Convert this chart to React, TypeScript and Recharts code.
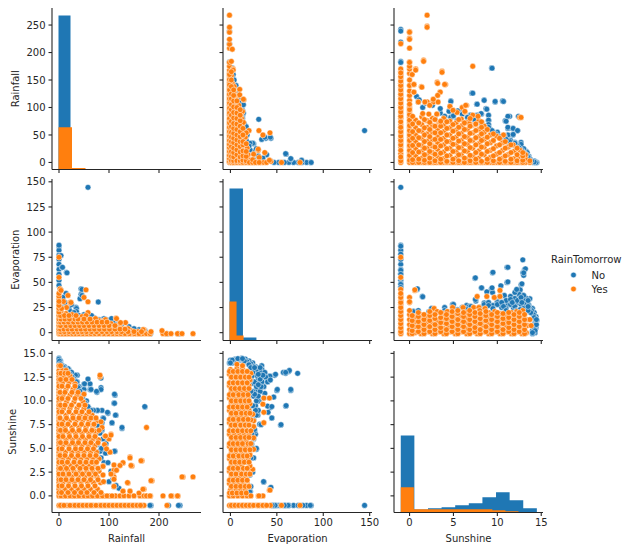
import React from 'react';
import { Area, ComposedChart, Scatter, ScatterChart, XAxis, YAxis } from 'recharts';

const BLUE = '#1f77b4';
const ORANGE = '#ff7f0e';
const INK = '#262626';
const FONT = '"DejaVu Sans", sans-serif';

// rainfall, evaporation
const RE_NO = [
  [58,144.5],[0,86],[0,82],[0,77],[0,73],[0,68],[0,63],[0,58],[0,52],[0,47],[3,43],[6,65],[15,60],[14,39],[44,43.6],[44,38],[42,33.7],
  [78.5,30.5],[34,25],[34,21],[60,15],[55,14],[46,37],[46,43],[16,59.5],[7,65],[4,76.7],[0,87],[35,24],[85,13],[113,10],[110,12],[20,24],
  [5,25],[108,10],[35,21],[23,21],[12,30],[40,17],[70,15],[95,13],[105,14],[125,8],[140,6],[160,3],[239,-1],[216,-1],[183,-1],[30,20],
  [80,13],[90,14],[65,17],[50,18],[25,28],[8,35],[150,4],[172,2],
];
const RE_YES = [
  [0,-1],[5,-1],[10,-1],[16,-1],[24,-1],[30,-1],[36,-1],[44,-1],[52,-1],[60,-1],[68,-1],[76,-1],[86,-1],[95,-1],[104,-1],[112,-1],[120,-1],
  [128,-1],[136,-1],[146,-1],[156,-1],[163,-1],[168,-1],[175,-1],[182,-1],[208,-1],[215,-1],[224,-1],[237,-1],[246,-1],[268,-1],
  [0,2],[8,2],[16,2],[24,2],[34,2],[42,1],[50,2],[60,1],[70,2],[80,1],[92,2],[100,1],[110,2],[122,2],[132,1],[144,2],[158,1],[170,3],[184,1],[206,2],
  [0,5],[6,5],[14,6],[22,5],[30,5],[40,6],[48,5],[56,6],[66,5],[76,6],[86,5],[96,6],[106,4],[118,5],[126,4],[138,4],[168,3],
  [0,9],[10,8],[18,9],[28,8],[36,9],[46,8],[54,9],[64,8],[74,9],[84,8],[94,8],[104,9],[122,9],[133,10],[123,10],
  [0,12],[6,12],[14,12],[24,12],[32,13],[42,12],[52,13],[60,12],[70,13],[80,12],[90,12],[93,13],
  [0,15],[9,16],[18,15],[28,16],[44,15],[46,16],[73,14],[114,14.5],[115,14],
  [0,19],[0,22],[5,20],[14,19],[26,18],[58,20],[54,17],[0,25],[15,25],[0,29],[0,33],[0,36],[0,39],[2,43.6],[0,55],[0,75],
  [18,37],[54,42.6],[50,35],[58,30.7],[22,30],[9,31],[4,42],[24,30],
];
// evaporation level, then the rainfall readings on that level
const RE_YES_ROWS: [number, number[]][] = [
  [-1, [2,7,13,20,27,33,40,48,56,64,72,80,90,99,108,116,124,132,141,151,160]],
  [1, [0,3,11,20,29,38,46,55,65,75,86,96,105,116,125,138,150,165]],
  [3.5, [0,3,10,18,26,36,44,53,62,71,81,91,101,112,122,132]],
  [7, [0,3,14,23,32,41,50,60,70,80,90,100,112]],
  [10.5, [0,3,10,19,29,38,47,56,66,76,86,96]],
  [13.5, [0,4,12,21,32,38,50,62]],
  [17, [0,3,11,20,34]],
  [20.5, [0]],
  [24, [0,5]],
  [27, [0]],
  [31, [0]],
];

// rainfall, sunshine
const RS_NO = [
  [0,14.5],[0,14.3],[15,13.1],[20,13.3],[32,12.55],[58,12.3],[62,11.75],[50,11.75],[62,11.2],[50,11.2],[84,11.4],[76,10.9],[112,10.6],[110,9.75],
  [172,9.35],[114,8.5],[98,8.7],[86,9],[76,9],[68,9],[60,9.2],[88,8.2],[106,7.65],[126,7.1],[86,6.9],[76,5.4],[82,4.7],[112,4.7],[94,4.5],[82,4],[84,4],
  [80,2.9],[120,0.8],[184,-1],[242,-1],[239,-1],[219,-1],[182,-1],[171.5,9.4],[126,7.2],[113,8.5],[111,9.75],[111,10.7],[106,7.7],[111,4.7],[97,8.8],[89,8.15],
  [84,11.2],[84,12.4],[93,4.5],[84,4],[82,4.7],[86,7],[86,7.7],[75,11],[64,11.2],[62,11.8],[58,12.3],[51,11.8],[49,10.8],[77,9],[69,9],[36.5,12.7],[33,12.7],
  [36.5,12],[29,11.3],[18,13.4],[15,13.2],[0,14.4],[3,14.2],[11,13.6],[25,13],[2,14],[5,13.8],[8,13.5],[30,12.3],[40,11.5],[45,10.8],[55,10],[64,9],[75,7.5],
  [92,6],[85,5],[90,3.5],[100,1.5],[110,1],[0,14.1],[1,14.2],[3,13.9],[6,13.7],[10,13.5],[14,13.3],[18,13],[22,12.8],[26,12.5],[30,12.1],[35,12],[38,11.4],[42,11],
  [47,10.4],[52,9.8],[58,9.4],[66,8.5],[72,8.2],[78,7.4],[82,6.6],[88,6],[94,5.5],[98,3.5],[104,2.6],[108,1.8],[114,1.1],
];
const RS_YES = [
  [0,-1],[6,-1],[16,-1],[28,-1],[36,-1],[44,-1],[52,-1],[60,-1],[68,-1],[80,-1],[88,-1],[96,-1],[104,-1],[112,-1],[120,-1],[128,-1],[136,-1],[144,-1],[152,-1],[160,-1],[166,-1],[170,-1],[216,-1],
  [0,0],[9,0],[18,0],[27,0],[36,0],[45,0],[54,0],[63,0],[72,0],[82,0],[92,0],[100,0],[113,0],[122,0],[130,0],[140,0],[150,0],[162,0],[170,0],[183,0],[208,0],[226,0],[238,0],[175,0],
  [0,0.7],[12,0.7],[25,0.7],[38,0.7],[50,0.7],[63,0.7],[77,0.7],[170,0.7],[128,0.5],[142,0.5],[160,0.3],
  [0,1.4],[8,1.4],[20,1.4],[31,1.4],[44,1.4],[57,1.4],[69,1.4],[83,1.4],[138,1.35],[186,1.6],
  [0,2],[14,2],[26,2],[39,2],[52,2],[64,2],[76,2],[108,2.3],[248,2],[268,2],
  [0,2.6],[6,2.6],[18,2.6],[30,2.6],[42,2.6],[55,2.6],[67,2.6],[80,2.6],[110,2.7],
  [0,3.2],[11,3.2],[24,3.2],[36,3.2],[48,3.2],[60,3.2],[72,3.35],[88,3.15],[110,3.25],[146,3.15],[128,3.45],
  [0,3.9],[7,3.9],[19,3.9],[32,3.9],[44,3.9],[56,3.9],[68,3.9],[80,3.9],[142,4.1],[166,3.7],
  [0,4.6],[13,4.6],[26,4.6],[38,4.6],[50,4.6],[63,4.6],[75,4.6],[102,4.6],
  [0,5.3],[8,5.3],[20,5.3],[33,5.3],[46,5.3],[59,5.3],[72,5.3],
  [0,5.9],[14,5.9],[27,5.9],[40,5.9],[53,5.9],[66,5.9],[79,5.9],[100,6],
  [0,6.6],[7,6.6],[20,6.6],[33,6.6],[46,6.6],[60,6.6],[73,6.6],[92,6.3],[104,6.5],
  [0,7.2],[12,7.2],[26,7.2],[40,7.2],[54,7.2],[68,7.2],[86,7.2],[175,7.2],
  [0,7.9],[8,7.9],[21,7.9],[34,7.9],[47,7.9],[60,7.9],[76,7.9],
  [0,8.5],[14,8.5],[28,8.5],[42,8.5],[55,8.5],[66,8.5],
  [0,9.2],[9,9.2],[22,9.2],[36,9.2],[50,9.2],
  [0,9.9],[15,9.9],[30,9.9],[48,9.9],
  [0,10.6],[8,10.6],[22,10.6],[36,10.6],[50,10.7],
  [0,11.2],[14,11.2],[28,11.2],
  [0,11.9],[7,11.9],[20,11.9],[32,11.8],
  [0,12.6],[10,12.6],[22,12.6],[82,12.55],
  [0,13.2],[7,13.2],[14,13.2],[0,13.7],[3,13.7],
  [246,2],[237,0],[224,0],[184,1.6],[182,0],[168,0.7],[164,3.7],[144,3.2],[142,4],[137,1.4],[142,0.5],[128,0.5],[128,3.5],[122,3.2],[115,2.7],[110,2],
  [110,1.75],[110,1],[102,4.6],[104,6.4],[93,6.3],[91,5.4],[88,3.1],[82,12.7],[84,7.8],[69,7.5],[71,6.8],[67.5,6],[73,3.5],[88,2.2],[89,1.5],
];
// sunshine level, then the rainfall readings on that level
const RS_YES_ROWS: [number, number[]][] = [
  [-1, [3,10,22,32,40,48,56,64,74,84,92,100,108,116,124,132,140,148,156,163]],
  [0, [4,13,22,31,40,50,58,67,77,87,96,106]],
  [0.35, [0,5,18,31,44,56,70,84]],
  [1.05, [0,6,19,32,45,58,72]],
  [1.7, [0,4,14,26,38,50,63,78]],
  [2.3, [0,8,20,34,47,60,73,104]],
  [2.9, [0,3,15,28,42,54,66,78]],
  [3.55, [0,6,17,30,42,54,66,75]],
  [4.25, [0,2,12,25,38,50,62,74]],
  [4.95, [0,6,20,33,44,57,69,95]],
  [5.6, [0,3,14,27,39,52,64,78]],
  [6.25, [0,8,21,34,47,60,72]],
  [6.9, [0,3,13,27,40,53,66,80]],
  [7.55, [0,6,18,32,45,58,70]],
  [8.2, [0,2,15,28,40,52,64,74]],
  [8.85, [0,6,20,34,46,60]],
  [9.55, [0,3,12,25,40,52]],
  [10.25, [0,6,18,32,44]],
  [10.9, [0,2,12,26,38]],
  [11.55, [0,6,18,32]],
  [12.25, [0,3,14,26]],
  [12.9, [0,4,12,18]],
];

// evaporation, sunshine
const ES_NO = [
  [144.5,-1],[87,-1],[82,-1],[68,-1],[63,-1],[59,-1],[52,-1],[49,-1],[46,-1],[86,-1],[78,-1],[73,-1],[62,-1],[58,-1],[48,-1],[45,-1],
  [54,7.45],[44.5,8.2],[59.5,9.45],[43,9.3],[40,9.45],[46.6,10.4],[50,11.1],[65,11.1],[72.4,12.9],[62.7,13.1],[59.5,12.9],[57,13],[47.7,12.7],[42,12.6],
  [37,10.8],[36,10.3],[29.5,8.5],[24,8.5],[31.5,7.55],[28,4.9],[27,6.5],[36,1.45],[43,0.85],[21.5,0.45],[33.7,13.7],[12,14.5],[7,14.3],[21,14],[28,11.2],
  [34,13.3],[29.4,13.3],[37,12.9],[29,12.1],[24,11.85],[20,9.3],[24,7],[25,6],[23,5.45],[21.5,2.8],[43.6,0.9],[35.7,1.5],[63.5,13.2],[59.5,13],[65,11.2],[60,9.5],
  [54.5,7.5],[50.5,11.2],[48.6,12.8],[46.6,10.4],[44.6,8.2],[44.6,9.4],[40.6,8.8],[33,7.5],[42.6,12.6],[28,5],[26,6.8],[28,8.5],[21,0.4],[21,2.2],
  [24,11],[28,11.5],[32,11],[36,11.5],[26,12],[30,12.4],[34,12],[38,12.5],[25,13],[29,13.2],[33,13],[37,13],[27,13.6],[24,14],[20,14.2],[16,14.4],[3,14.2],[0,14.3],[-1,14],
  [12,14.4],[10,14.3],[5,14.4],[7,14.3],[2,14],[24,2.5],[25,4],[24,5],[26,7],[30,9],[31,10],[22,1],[25,10.5],[30,10],[33,11.5],[27,9.5],[40,12],[43,12.2],
  [4,14.2],[2,14.3],[0,14],[9,14.4],[14,14.3],[18,14.1],[22,13.9],[25,13.6],[20,3.5],[22,4],[23,6.5],[25,8],[27,9],[28,10],[30,10.5],[30,11.7],[32,12.3],[35,12.7],
  [32,13.5],[28,12.7],[24,13],[22,12.2],[24,9.5],[26,10.7],[23,12.6],[30,12.8],[15,14.2],[20,13.8],[22,13.5],[26,13.5],[8,14.45],[13,14.45],[22,11],[23,8],
];
const ES_YES = [
  [0,-1],[3,-1],[7,-1],[11,-1],[15,-1],[19,-1],[23,-1],[28,-1],[32,-1],[37,-1],[43,-1],[55,-1],[75,-1],[-1,-1],[4,-1],[14,-1],[20,-1],
  [-1,0],[3,0],[8,0],[13,0],[18,0],[22,0],[30,0],[35,0],[30.7,0],[0,0.6],[6,0.6],[11,0.6],[16,0.6],[42,0.6],
  [-1,1.3],[4,1.3],[9,1.3],[14,1.3],[18,1.3],[1,2],[6,2],[11,2],[16,2],[-1,2.6],[4,2.6],[9,2.6],[14,2.6],[19,2.6],[24,2.8],
  [1,3.2],[7,3.2],[12,3.2],[21,3.15],[-1,3.9],[4,3.9],[10,3.9],[15,3.9],[19,3.9],[1,4.5],[6,4.5],[12,4.5],[17,4.5],[21,4.4],
  [-1,5.2],[4,5.2],[9,5.2],[14,5.2],[19,5.2],[1,5.8],[7,5.8],[12,5.8],[17,5.8],[-1,6.5],[4,6.5],[10,6.5],[15,6.5],[20,6.5],[25,6.1],
  [1,7.2],[6,7.2],[12,7.2],[17,7.2],[25,7.3],[36,7.7],[-1,7.7],[4,7.7],[9,7.7],[14,7.7],[19,7.7],[25,7.9],
  [1,8.4],[7,8.4],[12,8.4],[17,8.4],[22,8],[24,8.6],[36,8.8],[-1,9],[4,9],[10,9],[15,9],[20,9],[1,9.7],[6,9.7],[12,9.7],[17,9.7],[21,9.7],[35,9.65],
  [-1,10.3],[4,10.3],[9,10.3],[14,10.3],[19,10.3],[36,10.3],[42,10.3],[1,11],[7,11],[12,11],[17,11],[-1,11.6],[4,11.6],[10,11.6],[15,11.6],[20,11.6],
  [1,12.2],[6,12.2],[12,12.2],[17,12.2],[21,12.2],[-1,12.8],[4,12.8],[9,12.8],[14,12.8],[22,12.9],[0,13.3],[7,13.4],[13,13.4],[7,13.85],[13,13.7],
  [21,4.3],[25,4.9],[18,1],[42.6,0.6],
];
// sunshine level, then the evaporation readings on that level
const ES_YES_ROWS: [number, number[]][] = [
  [-1, [1,5,9,13,17,21,25,30,35,39]],
  [0.3, [-1,2,7,12,17]],
  [1, [1,6,11,16,20]],
  [1.65, [-1,3,8,13,18]],
  [2.3, [1,6,12,17,21]],
  [2.9, [-1,3,8,14,18]],
  [3.55, [1,5,10,15,20]],
  [4.2, [-1,3,9,14,18]],
  [4.85, [1,6,11,16,21]],
  [5.5, [-1,3,8,13,19,22]],
  [6.15, [1,6,11,16,20]],
  [6.85, [-1,3,8,13,18,22]],
  [7.45, [1,5,11,16,20]],
  [8.05, [-1,3,9,14,19]],
  [8.7, [1,6,12,17,21]],
  [9.35, [-1,3,8,13,18]],
  [10, [1,6,11,16,20]],
  [10.65, [-1,3,9,14,19]],
  [11.3, [1,5,10,15,20]],
  [11.9, [-1,3,8,13,18]],
  [12.5, [1,6,11,16,20]],
  [13.1, [-1,3,8,13,18]],
];

// bin edges (last count repeated for the closing step) and counts per hue
const RAIN_NO_EDGES = [-1,23,47,71,95,119,144,168,192,216,240];
const RAIN_NO_COUNTS = [109700,420,100,40,20,10,8,3,1,1,1];
const RAIN_YES_EDGES = [-1,26,53,80,107,134,161,188,215,242,269];
const RAIN_YES_COUNTS = [30000,1100,300,90,50,20,8,4,2,2,2];
const EVAP_NO_EDGES = [-1,13.5,28,42.6,57.1,71.7,86.2,100.8,115.3,129.9,144.5];
const EVAP_NO_COUNTS = [108200,2100,150,40,10,4,1,0,0,1,1];
const EVAP_YES_EDGES = [-1,6.6,14.2,21.8,29.4,37,44.6,52.2,59.8,67.4,75];
const EVAP_YES_COUNTS = [27800,3560,400,70,20,8,3,1,0,1,1];
const SUN_NO_EDGES = [-1,0.55,2.1,3.65,5.2,6.75,8.3,9.85,11.4,12.95,14.5];
const SUN_NO_COUNTS = [54800,2100,3060,3770,5200,6620,10900,14450,8760,3060,3060];
const SUN_YES_EDGES = [-1,0.49,1.98,3.47,4.96,6.45,7.94,9.43,10.92,12.41,13.9];
const SUN_YES_COUNTS = [18000,2350,2350,2350,2350,2350,2350,1640,930,200,200];

const VARS = {
  rain: { label: 'Rainfall', x: [-14, 284], y: [-12.8, 281], xTicks: [0, 100, 200], yTicks: [0, 50, 100, 150, 200, 250], digits: 0, dx: -11.5 },
  evap: { label: 'Evaporation', x: [-8, 152.5], y: [-7.8, 152.8], xTicks: [0, 50, 100, 150], yTicks: [0, 25, 50, 75, 100, 125, 150], digits: 0, dx: -12 },
  sun: { label: 'Sunshine', x: [-1.77, 15.2], y: [-1.75, 15.25], xTicks: [0, 5, 10, 15], yTicks: [0, 2.5, 5, 7.5, 10, 12.5, 15], digits: 1, dx: -15 },
};
type VarName = keyof typeof VARS;

const COL_LEFT = [51.5, 222.5, 393.5];
const ROW_TOP = [7.5, 178.5, 350.5];
const PLOT_W = 149;
const PLOT_H = 161.5;
const AXIS_W = 50;
const AXIS_H = 51;
const COUNT_MAX = 115000;

const fromRows = (rows: [number, number[]][]) => rows.flatMap(([level, xs]) => xs.map((x) => [x, level]));
const RE_YES_ALL = RE_YES.concat(fromRows(RE_YES_ROWS));
const RS_YES_ALL = RS_YES.concat(fromRows(RS_YES_ROWS));
const ES_YES_ALL = ES_YES.concat(fromRows(ES_YES_ROWS));

const toPairs = (rows: number[][]) => rows.map(([a, b]) => ({ a, b }));
const toBins = (edges: number[], counts: number[]) => edges.map((edge, i) => ({ edge, count: counts[i] }));

function axes(row: number, col: number, xVar: VarName, yVar: VarName, xKey: string, yKey: string) {
  const xv = VARS[xVar];
  const yv = VARS[yVar];
  const line = { stroke: INK, strokeWidth: 1.1 };
  const tickStyle = { fontSize: 10, fontFamily: FONT, fill: INK };
  return [
    <XAxis
      key="x"
      type="number"
      dataKey={xKey}
      domain={xv.x as [number, number]}
      ticks={xv.xTicks}
      interval={0}
      allowDataOverflow
      height={AXIS_H}
      tickSize={3.5}
      tickMargin={3}
      axisLine={line}
      tickLine={line}
      tick={tickStyle}
      tickFormatter={(v: number) => (row === 2 ? String(v) : '')}
      label={row === 2 ? { value: xv.label, position: 'center', style: tickStyle } : undefined}
    />,
    <YAxis
      key="y"
      type="number"
      dataKey={yKey}
      domain={yv.y as [number, number]}
      ticks={yv.yTicks}
      interval={0}
      allowDataOverflow
      width={AXIS_W}
      tickSize={3.5}
      tickMargin={3}
      axisLine={line}
      tickLine={line}
      tick={tickStyle}
      tickFormatter={(v: number) => (col === 0 ? v.toFixed(yv.digits) : '')}
      label={col === 0 ? { value: yv.label, position: 'center', angle: -90, dx: yv.dx, style: tickStyle } : undefined}
    />,
  ];
}

// seaborn's default marker: a small disc with a thin white edge
const Dot = (props: any) => <circle cx={props.cx} cy={props.cy} r={2.9} fill={props.fill} stroke="#fff" strokeWidth={0.5} />;

function ScatterPanel({ row, col, xVar, yVar, no, yes, flip }: { row: number; col: number; xVar: VarName; yVar: VarName; no: number[][]; yes: number[][]; flip?: boolean }) {
  const xKey = flip ? 'b' : 'a';
  const yKey = flip ? 'a' : 'b';
  return (
    <div style={{ position: 'absolute', left: COL_LEFT[col] - AXIS_W, top: ROW_TOP[row] - 6 }}>
      <ScatterChart width={PLOT_W + AXIS_W + 8} height={PLOT_H + AXIS_H + 6} margin={{ top: 6, right: 8, bottom: 0, left: 0 }}>
        {axes(row, col, xVar, yVar, xKey, yKey)}
        <Scatter data={toPairs(no)} fill={BLUE} shape={Dot} isAnimationActive={false} />
        <Scatter data={toPairs(yes)} fill={ORANGE} shape={Dot} isAnimationActive={false} />
      </ScatterChart>
    </div>
  );
}

function HistPanel({ idx, name, no, yes }: { idx: number; name: VarName; no: { edge: number; count: number }[]; yes: { edge: number; count: number }[] }) {
  return (
    <div style={{ position: 'absolute', left: COL_LEFT[idx] - AXIS_W, top: ROW_TOP[idx] - 6 }}>
      <ComposedChart width={PLOT_W + AXIS_W + 8} height={PLOT_H + AXIS_H + 6} margin={{ top: 6, right: 8, bottom: 0, left: 0 }}>
        {axes(idx, idx, name, name, 'edge', 'none')}
        <YAxis yAxisId="count" hide type="number" domain={[0, COUNT_MAX]} />
        <Area yAxisId="count" data={no} dataKey="count" type="stepAfter" fill={BLUE} fillOpacity={1} stroke="none" dot={false} activeDot={false} isAnimationActive={false} />
        <Area yAxisId="count" data={yes} dataKey="count" type="stepAfter" fill={ORANGE} fillOpacity={1} stroke="none" dot={false} activeDot={false} isAnimationActive={false} />
      </ComposedChart>
    </div>
  );
}

function LegendBox() {
  const text = { fontSize: 10, fontFamily: FONT, fill: INK };
  return (
    <svg width={80} height={50} style={{ position: 'absolute', left: 548, top: 250 }}>
      <text x={3} y={13} {...text}>RainTomorrow</text>
      <circle cx={25.5} cy={25} r={2.8} fill={BLUE} stroke="#fff" strokeWidth={0.5} />
      <text x={43.5} y={28.5} {...text}>No</text>
      <circle cx={25.5} cy={39} r={2.8} fill={ORANGE} stroke="#fff" strokeWidth={0.5} />
      <text x={43.5} y={43} {...text}>Yes</text>
    </svg>
  );
}

export default function App() {
  return (
    <div style={{ position: 'absolute', left: 0, top: 0, width: 628, height: 550, background: '#fff', overflow: 'hidden' }}>
      <HistPanel idx={0} name="rain" no={toBins(RAIN_NO_EDGES, RAIN_NO_COUNTS)} yes={toBins(RAIN_YES_EDGES, RAIN_YES_COUNTS)} />
      <ScatterPanel row={0} col={1} xVar="evap" yVar="rain" no={RE_NO} yes={RE_YES_ALL} flip />
      <ScatterPanel row={0} col={2} xVar="sun" yVar="rain" no={RS_NO} yes={RS_YES_ALL} flip />
      <ScatterPanel row={1} col={0} xVar="rain" yVar="evap" no={RE_NO} yes={RE_YES_ALL} />
      <HistPanel idx={1} name="evap" no={toBins(EVAP_NO_EDGES, EVAP_NO_COUNTS)} yes={toBins(EVAP_YES_EDGES, EVAP_YES_COUNTS)} />
      <ScatterPanel row={1} col={2} xVar="sun" yVar="evap" no={ES_NO} yes={ES_YES_ALL} flip />
      <ScatterPanel row={2} col={0} xVar="rain" yVar="sun" no={RS_NO} yes={RS_YES_ALL} />
      <ScatterPanel row={2} col={1} xVar="evap" yVar="sun" no={ES_NO} yes={ES_YES_ALL} />
      <HistPanel idx={2} name="sun" no={toBins(SUN_NO_EDGES, SUN_NO_COUNTS)} yes={toBins(SUN_YES_EDGES, SUN_YES_COUNTS)} />
      <LegendBox />
    </div>
  );
}
